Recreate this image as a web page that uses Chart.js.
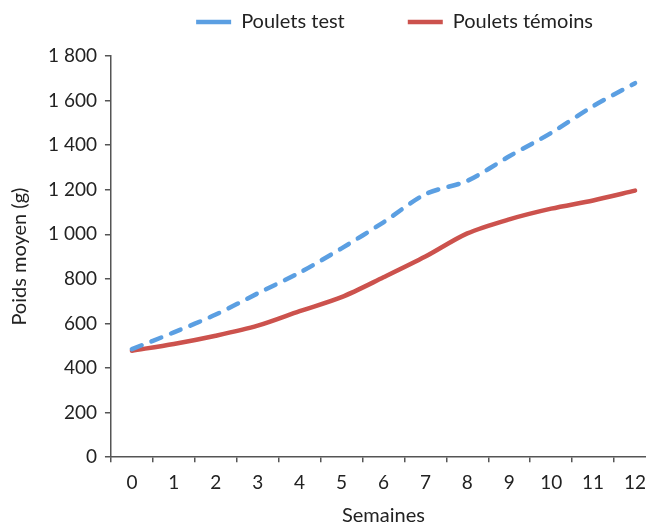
<!DOCTYPE html>
<html>
<head>
<meta charset="utf-8">
<script src="https://cdn.jsdelivr.net/npm/chart.js@4"></script>
<style>
  html, body { margin: 0; padding: 0; background: #fff; overflow: hidden; }
  #wrap { width: 656px; height: 524px; }
</style>
</head>
<body>
<div id="wrap"><canvas id="chart"></canvas></div>
<script>
const weeks = ["0", "1", "2", "3", "4", "5", "6", "7", "8", "9", "10", "11", "12"];
const testChickens = [485, 560, 640, 735, 828, 937, 1054, 1180, 1240, 1350, 1455, 1575, 1678];
const controlChickens = [478, 508, 545, 590, 655, 718, 807, 900, 1004, 1067, 1115, 1152, 1196];
const seriesNames = ["Poulets test", "Poulets témoins"];

const textColor = "#222";
const axisColor = "#555";
const font = "Lato";
const legendGap = 63;

function formatThousands(v) {
    // French style: space as thousands separator
    return String(v).replace(/\B(?=(\d{3})+(?!\d))/g, " ");
}

// give the legend a bit more room below it
const legendSpace = {
    id: "legendSpace",
    beforeInit(chart) {
        const origFit = chart.legend.fit;
        chart.legend.fit = function () {
            origFit.call(this);
            this.height += 14;
        };
    },
};

new Chart(document.getElementById("chart"), {
    type: "line",
    data: {
        labels: weeks,
        datasets: [
            {
                label: seriesNames[0],
                data: testChickens,
                borderColor: "#5B9FE2",
                backgroundColor: "#5B9FE2",
                borderWidth: 4.5,
                borderDash: [10.5, 10.5],
                borderCapStyle: "round",
                pointRadius: 0,
                tension: 0.3,
                fill: false,
            },
            {
                label: seriesNames[1],
                data: controlChickens,
                borderColor: "#CC524D",
                backgroundColor: "#CC524D",
                borderWidth: 4.5,
                borderCapStyle: "round",
                pointRadius: 0,
                tension: 0.3,
                fill: false,
            },
        ],
    },
    plugins: [legendSpace],
    options: {
        responsive: true,
        maintainAspectRatio: false,
        animation: false,
        layout: { padding: { top: 12 - legendGap, left: 8, right: 0, bottom: -4 } },
        plugins: {
            legend: {
                display: true,
                position: "top",
                align: "end",
                fullSize: false,
                labels: {
                    usePointStyle: true,
                    pointStyle: "line",
                    pointStyleWidth: 35,
                    color: textColor,
                    font: { family: font, size: 20 },
                    padding: legendGap,
                },
            },
            title: { display: false },
            tooltip: { enabled: false },
        },
        scales: {
            x: {
                offset: true,
                grid: {
                    offset: true,
                    drawOnChartArea: false,
                    drawTicks: true,
                    tickLength: 5,
                    color: axisColor,
                    lineWidth: 1.5,
                },
                border: { display: true, color: axisColor, width: 1.5 },
                ticks: {
                    color: textColor,
                    font: { family: font, size: 19 },
                    padding: 9,
                    maxRotation: 0,
                },
                title: {
                    display: true,
                    text: "Semaines",
                    color: textColor,
                    font: { family: font, size: 20 },
                    padding: { top: 1, bottom: 0 },
                },
            },
            y: {
                min: 0,
                max: 1800,
                grid: {
                    drawOnChartArea: false,
                    drawTicks: true,
                    tickLength: 6,
                    color: axisColor,
                    lineWidth: 1.5,
                },
                border: { display: true, color: axisColor, width: 1.5 },
                ticks: {
                    stepSize: 200,
                    color: textColor,
                    font: { family: font, size: 19 },
                    padding: 8,
                    callback: (v) => formatThousands(v),
                },
                title: {
                    display: true,
                    text: "Poids moyen (g)",
                    color: textColor,
                    font: { family: font, size: 20 },
                    padding: { top: 0, bottom: 8 },
                },
            },
        },
    },
});
</script>
</body>
</html>
